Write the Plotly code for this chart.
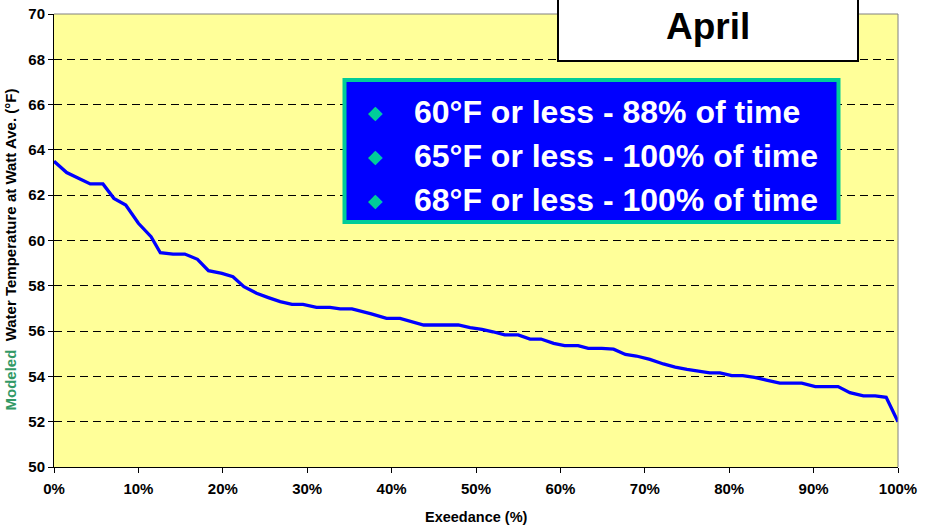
import plotly.graph_objects as go

# Exceedance (%) and modeled water temperature (°F)
exceedance = [0, 1.5, 2.9, 4.3, 5.8, 7.1, 8.5, 10.0, 11.5, 12.6, 14.1, 15.5, 17.0, 18.3,
              19.9, 21.2, 22.5, 24.0, 25.4, 26.8, 28.2, 29.5, 31.1, 32.7, 33.9, 35.3, 37.6,
              39.4, 41.0, 42.4, 43.8, 45.3, 46.6, 47.9, 49.3, 50.7, 52.0, 53.4, 55.0, 56.4,
              57.7, 59.2, 60.5, 62.1, 63.3, 64.9, 66.3, 67.7, 69.0, 70.6, 72.2, 73.6, 75.0,
              76.3, 77.7, 78.9, 80.3, 81.6, 83.0, 84.4, 86.0, 87.3, 88.6, 90.2, 91.5, 92.9,
              94.3, 95.9, 97.3, 98.6, 100]
temperature = [63.5, 63.0, 62.75, 62.5, 62.5, 61.86, 61.57, 60.76, 60.17, 59.46, 59.40, 59.40,
               59.17, 58.67, 58.55, 58.40, 57.96, 57.67, 57.48, 57.30, 57.18, 57.18, 57.05,
               57.05, 56.98, 56.98, 56.76, 56.56, 56.56, 56.40, 56.27, 56.27, 56.27, 56.27,
               56.15, 56.08, 55.97, 55.83, 55.83, 55.65, 55.65, 55.46, 55.36, 55.36, 55.24,
               55.24, 55.2, 54.97, 54.9, 54.75, 54.55, 54.41, 54.31, 54.24, 54.16, 54.16,
               54.03, 54.03, 53.96, 53.84, 53.70, 53.70, 53.70, 53.55, 53.55, 53.55, 53.28,
               53.14, 53.14, 53.08, 52.0]

y_ticks = [50, 52, 54, 56, 58, 60, 62, 64, 66, 68, 70]
x_ticks = [0, 10, 20, 30, 40, 50, 60, 70, 80, 90, 100]

title_text = "April"
legend_lines = ["60°F or less - 88% of time",
                "65°F or less - 100% of time",
                "68°F or less - 100% of time"]
x_title = "Exeedance (%)"
y_title_green = "Modeled"
y_title_rest = "Water Temperature at Watt Ave. (°F)"

FONT = "Liberation Sans, Arial, sans-serif"
W, H = 925, 525
L, R, T, B = 54, 27, 14, 58
PW, PH = W - L - R, H - T - B


def px(xp):
    return (xp - L) / PW


def py(yp):
    return (H - B - yp) / PH


fig = go.Figure()
fig.add_trace(go.Scatter(x=exceedance, y=temperature, mode="lines",
                         line=dict(color="#0000FF", width=3.3), hoverinfo="skip"))

fig.update_layout(
    width=W, height=H,
    margin=dict(l=L, r=R, t=T, b=B, autoexpand=False),
    paper_bgcolor="white", plot_bgcolor="#FFFF99",
    showlegend=False,
    font=dict(family=FONT, color="black"),
)
fig.update_xaxes(range=[0, 100], tickvals=x_ticks, ticktext=[f"{v}%" for v in x_ticks],
                 showgrid=False, zeroline=False, showline=True, linecolor="black",
                 linewidth=1, ticks="outside", ticklen=5, tickcolor="black", automargin=False,
                 ticklabelstandoff=3,
                 tickfont=dict(family=FONT, size=15, color="black", weight="bold"))
fig.update_yaxes(range=[50, 70], tickvals=y_ticks, showgrid=True, gridcolor="black",
                 gridwidth=1, griddash="8px,5px", zeroline=False, showline=True,
                 linecolor="black", linewidth=1, ticks="outside", ticklen=5,
                 tickcolor="black", automargin=False,
                 tickfont=dict(family=FONT, size=15, color="black", weight="bold"))

# gray top / right border
fig.add_shape(type="line", xref="paper", yref="paper", x0=0, x1=1, y0=1, y1=1,
              line=dict(color="#808080", width=1))
fig.add_shape(type="line", xref="paper", yref="paper", x0=1, x1=1, y0=0, y1=1,
              line=dict(color="#808080", width=1))

# Title box
fig.add_shape(type="rect", xref="paper", yref="paper",
              x0=px(558), x1=px(858), y0=py(61), y1=py(-4),
              fillcolor="white", line=dict(color="black", width=2))
fig.add_annotation(xref="paper", yref="paper", x=px(708), y=py(26), text=f"<b>{title_text}</b>",
                   showarrow=False, xanchor="center", yanchor="middle",
                   font=dict(family=FONT, size=37, color="black"))

# Legend-like info box
fig.add_shape(type="rect", xref="paper", yref="paper",
              x0=px(344.5), x1=px(838.5), y0=py(222), y1=py(80),
              fillcolor="#0000FF", line=dict(color="#00CC99", width=4))
for i, line in enumerate(legend_lines):
    yc = 112 + i * 44
    fig.add_annotation(xref="paper", yref="paper", x=px(375), y=py(yc), text="◆",
                       showarrow=False, xanchor="center", yanchor="middle",
                       font=dict(family="DejaVu Sans", size=19, color="#00CC99"))
    fig.add_annotation(xref="paper", yref="paper", x=px(412), y=py(yc),
                       text=f"<b>{line}</b>", showarrow=False, xanchor="left",
                       yanchor="middle", font=dict(family=FONT, size=32, color="white"))

# Axis titles
fig.add_annotation(xref="paper", yref="paper", x=px(476.5), y=py(517),
                   text=f"<b>{x_title}</b>", showarrow=False, xanchor="center",
                   yanchor="middle", font=dict(family=FONT, size=14.5, color="black"))
fig.add_annotation(xref="paper", yref="paper", x=px(10), y=py(249.5),
                   text=f"<b><span style='color:#339966'>{y_title_green}</span>  {y_title_rest}</b>",
                   showarrow=False, textangle=-90, xanchor="center", yanchor="middle",
                   font=dict(family=FONT, size=15, color="black"))

fig.write_html("out.html", config={"displayModeBar": False},
               post_script="document.body.style.margin='0';document.body.style.overflow='hidden';")
